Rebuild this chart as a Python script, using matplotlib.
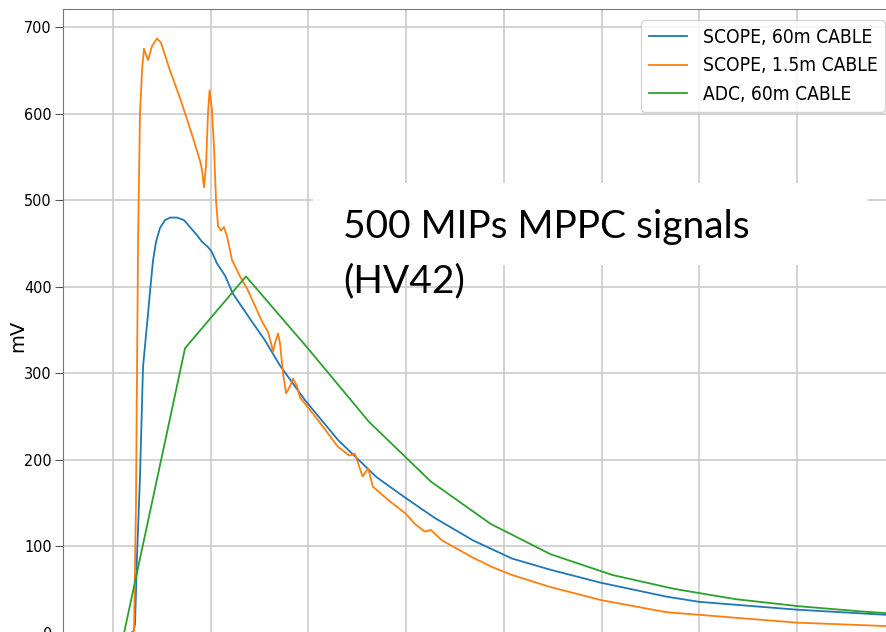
import matplotlib
matplotlib.use('Agg')
import matplotlib.pyplot as plt
import matplotlib.patches as mp
from matplotlib.font_manager import FontProperties

# traces (x in ns, y in mV)
scope60_t = [48.8, 120.5, 122.5, 124.6, 127.6, 130.7, 133.8, 135.8, 137.9, 140.9, 144.0, 148.1,
             153.2, 158.3, 165.5, 172.7, 178.8, 185.0, 191.1, 197.2, 201.3, 206.4, 214.6, 222.8,
             240.2, 255.6, 270.9, 296.5, 330.3, 369.8, 399.5, 429.2, 468.5, 508.4, 547.9, 599.5,
             666.5, 699.8, 799.1, 891.2]
scope60_mv = [0, 0, 10, 90, 180, 307, 345, 368, 395, 430, 452, 468,
              477, 480, 480, 477, 469, 461, 452, 446, 440, 427, 413, 392,
              363, 338, 309, 269, 223, 180, 156, 133, 107, 86, 73, 58,
              42, 36, 27, 21]

scope15_t = [48.8, 118.4, 121.5, 123.5, 125.6, 127.6, 129.7, 131.7, 135.8, 139.9, 145.0, 149.1,
             158.3, 168.6, 178.8, 189.0, 191.1, 193.1, 195.2, 197.2, 198.8, 201.3, 203.4, 205.4,
             207.5, 210.5, 213.6, 216.7, 221.8, 230.0, 237.2, 245.3, 252.5, 258.6, 261.7, 263.8,
             265.8, 268.9, 270.9, 274.0, 277.1, 281.2, 284.2, 288.3, 291.4, 296.5, 309.8, 330.3,
             334.0, 341.8, 347.6, 355.4, 361.2, 366.0, 383.5, 399.5, 409.0, 419.3, 425.3, 436.7,
             468.5, 488.5, 508.4, 547.9, 599.5, 666.5, 699.8, 799.1, 891.2]
scope15_mv = [0, 0, 3, 150, 450, 600, 650, 675, 662, 678, 687, 682,
              650, 618, 583, 546, 535, 515, 540, 600, 627, 604, 560, 500,
              470, 465, 469, 458, 431, 412, 398, 378, 360, 348, 335, 325,
              335, 346, 335, 300, 277, 285, 294, 285, 272, 265, 246, 215,
              212, 205, 207, 181, 190, 169, 152, 138, 126, 117, 119, 107,
              87, 76, 67, 53, 38, 24, 21, 12, 8]

adc60_t = [48.8, 111.3, 173.7, 236.1, 298.6, 362.0, 425.3, 486.6, 547.9, 611.2, 674.2, 737.7,
           801.1, 864.6, 927.0]
adc60_mv = [0, 0, 329, 412, 330, 244, 175, 126, 91, 67, 51, 39,
            31, 25, 20]

labels = ['SCOPE, 60m CABLE', 'SCOPE, 1.5m CABLE', 'ADC, 60m CABLE']
yticks = [0, 100, 200, 300, 400, 500, 600, 700]
xticks = [100, 200, 300, 400, 500, 600, 700, 800, 900]

W, H = 886, 632
fig = plt.figure(figsize=(W / 100, H / 100), dpi=100)
# plot area runs past the bottom and right edges, like the cropped original
ax = fig.add_axes([63 / W, (H - 662.4) / H, (920 - 63) / W, 653.4 / H])

ax.plot(scope60_t, scope60_mv, color='#1f77b4', lw=1.3, label=labels[0])
ax.plot(scope15_t, scope15_mv, color='#ff7f0e', lw=1.3, label=labels[1])
ax.plot(adc60_t, adc60_mv, color='#2ca02c', lw=1.3, label=labels[2])

ax.set_xlim(48.8, 926)
ax.set_ylim(-34, 721)
ax.set_xticks(xticks)
ax.set_yticks(yticks)
ax.grid(True, color='#c8c8c8', lw=1.1)
ax.tick_params(axis='y', length=6, pad=2, color='#555555')
ax.tick_params(axis='x', labelbottom=False)
for lab in ax.get_yticklabels():
    lab.set_fontproperties(FontProperties(family='DejaVu Sans', stretch='condensed', size=11.5))
for s in ax.spines.values():
    s.set_color('#777777')
ax.set_ylabel('mV', fontsize=14)
ax.yaxis.set_label_coords(-0.042, 0.5)

# white box behind the caption
box = mp.Rectangle((313 / W, 1 - 265 / H), (867 - 313) / W, (265 - 183) / H,
                   transform=fig.transFigure, facecolor='white', edgecolor='none', zorder=2.5)
box.set_clip_on(False)
ax.add_artist(box)
ax.text(343 / W, 1 - 238 / H, '500 MIPs MPPC signals', transform=fig.transFigure,
        fontsize=28, family='Lato', va='baseline', ha='left', zorder=3)
ax.text(343 / W, 1 - 292 / H, '(HV42)', transform=fig.transFigure,
        fontsize=28, family='Lato', va='baseline', ha='left', zorder=3)

ax.legend(loc='upper right', bbox_to_anchor=(885 / W, 1 - 20 / H), bbox_transform=fig.transFigure,
          borderaxespad=0, prop=FontProperties(family='DejaVu Sans', stretch='condensed', size=13.8))

fig.savefig('out.png', dpi=100)
